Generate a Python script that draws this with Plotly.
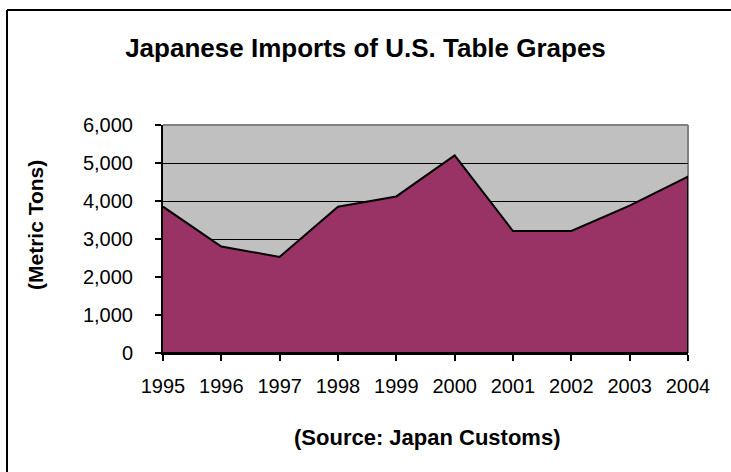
import plotly.graph_objects as go

years = [1995, 1996, 1997, 1998, 1999, 2000, 2001, 2002, 2003, 2004]
imports_tons = [3850, 2800, 2530, 3850, 4120, 5200, 3210, 3210, 3880, 4640]
y_ticks = [0, 1000, 2000, 3000, 4000, 5000, 6000]
y_tick_labels = ["0", "1,000", "2,000", "3,000", "4,000", "5,000", "6,000"]

title_text = "Japanese Imports of U.S. Table Grapes"
y_title = "(Metric Tons)"
x_title = "(Source: Japan Customs)"

FONT = "Liberation Sans, Arial, sans-serif"

# closed polygon outline of the area (top edge, then down to baseline)
poly_x = years + [years[-1], years[0]]
poly_y = imports_tons + [0, 0]

fig = go.Figure()
fig.add_trace(go.Scatter(
    x=poly_x, y=poly_y, mode="lines", fill="toself",
    fillcolor="#993366", line=dict(color="black", width=2),
    hoverinfo="skip", showlegend=False,
))

fig.update_layout(
    width=731, height=472,
    margin=dict(l=163, r=43, t=125, b=119),
    paper_bgcolor="white", plot_bgcolor="#C0C0C0",
    font=dict(family=FONT, color="black", size=20),
    title=dict(text="<b>" + title_text + "</b>", x=0.5, xanchor="center",
               y=1 - 48 / 472, yanchor="middle",
               font=dict(family=FONT, size=26, color="black")),
    showlegend=False,
)
fig.update_xaxes(
    range=[years[0], years[-1]], tickvals=years, ticktext=[str(y) for y in years],
    showgrid=False, zeroline=False, showline=True, linecolor="black", linewidth=2,
    ticks="outside", ticklen=6, tickwidth=2, tickcolor="black",
    tickfont=dict(family=FONT, size=20), ticklabelstandoff=8,
)
fig.update_yaxes(
    range=[0, 6000], tickvals=y_ticks, ticktext=y_tick_labels,
    showgrid=True, gridcolor="black", gridwidth=1, zeroline=False,
    showline=True, linecolor="black", linewidth=2,
    ticks="outside", ticklen=6, tickwidth=2, tickcolor="black",
    tickfont=dict(family=FONT, size=20), ticklabelstandoff=18,
)

# gray top/right frame of the plot area
fig.add_shape(type="line", xref="paper", yref="paper", x0=0, x1=1, y0=1, y1=1,
              line=dict(color="#808080", width=2), layer="below")
fig.add_shape(type="line", xref="paper", yref="paper", x0=1, x1=1, y0=0, y1=1,
              line=dict(color="#808080", width=2), layer="below")

# outer chart border (left and top only visible)
fig.add_shape(type="line", xref="paper", yref="paper",
              x0=(7 - 163) / 525, x1=(7 - 163) / 525, y0=(353 - 10) / 228, y1=(353 - 480) / 228,
              line=dict(color="black", width=2))
fig.add_shape(type="line", xref="paper", yref="paper",
              x0=(7 - 163) / 525, x1=(740 - 163) / 525, y0=(353 - 10) / 228, y1=(353 - 10) / 228,
              line=dict(color="black", width=2))

fig.add_annotation(text="<b>" + y_title + "</b>", xref="paper", yref="paper",
                   x=(35 - 163) / 525, y=(353 - 225) / 228, textangle=-90,
                   showarrow=False, xanchor="center", yanchor="middle",
                   font=dict(family=FONT, size=21))
fig.add_annotation(text="<b>" + x_title + "</b>", xref="paper", yref="paper",
                   x=(427 - 163) / 525, y=(353 - 437) / 228,
                   showarrow=False, xanchor="center", yanchor="middle",
                   font=dict(family=FONT, size=22))

fig.write_html("out.html", config={"displayModeBar": False},
               post_script="document.body.style.margin='0';")
